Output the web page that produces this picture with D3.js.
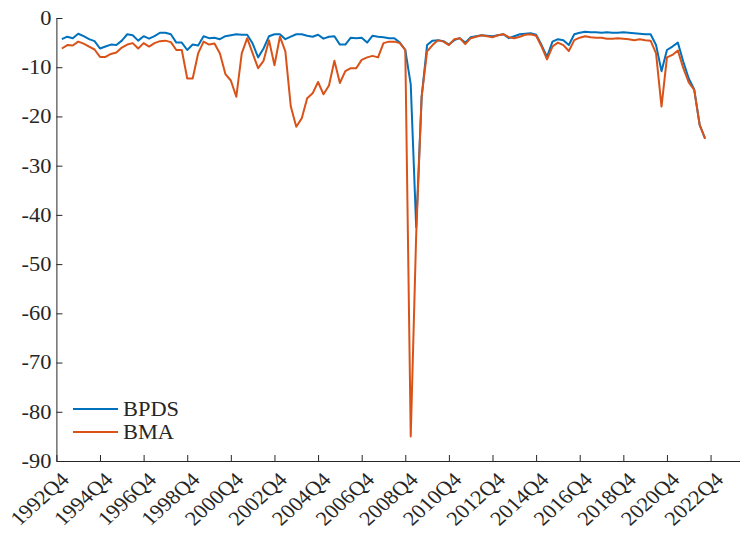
<!DOCTYPE html>
<html><head><meta charset="utf-8">
<script src="https://cdn.jsdelivr.net/npm/d3@7"></script>
<style>body{margin:0;background:#fff}</style>
</head><body>
<svg id="c" width="740" height="534"></svg>
<script>
// first observation is 1993Q1 (quarter index 1 where 1992Q4 = 0)
const firstQuarter = "1993Q1";
const seriesNames = ["BPDS", "BMA"];
const bpds = [-4.3,-3.8,-4.1,-3.2,-3.7,-4.3,-4.7,-6.2,-5.8,-5.4,
  -5.5,-4.6,-3.3,-3.5,-4.6,-3.7,-4.2,-3.7,-3.0,-3.0,
  -3.3,-5.0,-5.0,-6.5,-5.4,-5.6,-3.7,-4.1,-4.0,-4.3,
  -3.7,-3.5,-3.3,-3.4,-3.4,-5.2,-8.0,-6.2,-3.7,-3.3,
  -3.3,-4.3,-3.8,-3.3,-3.3,-3.6,-3.8,-3.4,-4.2,-3.8,
  -3.7,-5.4,-5.4,-4.0,-4.1,-4.0,-5.0,-3.6,-3.8,-3.9,
  -4.1,-4.1,-5.0,-6.5,-13.5,-42.5,-16.0,-5.5,-4.6,-4.5,
  -4.7,-5.4,-4.5,-4.1,-5.0,-3.9,-3.7,-3.5,-3.6,-3.7,
  -3.5,-3.3,-4.1,-3.7,-3.3,-3.2,-3.1,-3.4,-5.5,-7.9,
  -4.8,-4.3,-4.5,-5.5,-3.3,-3.0,-2.8,-2.9,-2.9,-3.0,
  -2.9,-3.0,-3.0,-2.9,-3.0,-3.1,-3.2,-3.3,-3.3,-5.5,
  -10.8,-6.5,-5.8,-5.0,-8.9,-12.3,-14.5,-21.7,-24.5];
const bma = [-6.2,-5.5,-5.6,-4.8,-5.2,-5.8,-6.4,-7.9,-7.9,-7.3,
  -7.0,-6.0,-5.4,-5.1,-6.2,-5.1,-5.8,-5.1,-4.7,-4.6,
  -4.9,-6.5,-6.5,-12.3,-12.3,-7.2,-4.8,-5.4,-5.2,-7.2,
  -11.4,-12.7,-16.0,-7.2,-4.1,-7.2,-10.2,-8.7,-4.5,-9.6,
  -3.8,-6.8,-18.0,-22.1,-20.4,-16.3,-15.3,-13.0,-15.5,-13.7,
  -8.7,-13.2,-10.8,-10.2,-10.2,-8.5,-8.0,-7.7,-8.0,-5.1,
  -4.8,-4.8,-5.1,-6.5,-85.0,-44.0,-16.0,-6.8,-5.5,-4.5,
  -4.8,-5.5,-4.3,-4.1,-5.3,-4.1,-3.8,-3.5,-3.7,-3.9,
  -3.5,-3.3,-3.9,-4.1,-3.8,-3.4,-3.3,-3.6,-5.8,-8.4,
  -5.8,-5.0,-5.5,-6.7,-4.5,-4.0,-3.7,-3.9,-4.0,-4.0,
  -4.2,-4.2,-4.1,-4.2,-4.3,-4.5,-4.3,-4.5,-4.6,-7.2,
  -18.0,-8.0,-7.5,-6.6,-10.2,-13.1,-14.6,-21.7,-24.5];
const tickLabels = ["1992Q4","1994Q4","1996Q4","1998Q4","2000Q4","2002Q4","2004Q4",
  "2006Q4","2008Q4","2010Q4","2012Q4","2014Q4","2016Q4","2018Q4","2020Q4","2022Q4"];
const yTicks = [0,-10,-20,-30,-40,-50,-60,-70,-80,-90];
const colors = ["#0072BD", "#D95319"];

// quarter label -> index (1992Q4 = 0)
function qIndex(s) { return (+s.slice(0,4) - 1992) * 4 + (+s.slice(5) - 4); }
const q0 = qIndex(firstQuarter);

const svg = d3.select("#c");
const font = "'Liberation Serif', 'Times New Roman', serif";
const axisColor = "#262626";
const stretch = 1.12;

const x = d3.scaleLinear().domain([0, 125.4]).range([56.4, 740]);
const y = d3.scaleLinear().domain([-90, 0]).range([461, 18]);

// Y axis
const gy = svg.append("g").attr("transform", `translate(${x(0)},0)`)
  .call(d3.axisLeft(y).tickValues(yTicks).tickSize(-6).tickSizeOuter(0).tickPadding(5)
    .tickFormat(d => d === 0 ? "0" : "-" + Math.abs(d)));
// X axis
const gx = svg.append("g").attr("transform", `translate(0,${y(-90)})`)
  .call(d3.axisBottom(x).tickValues(tickLabels.map(qIndex)).tickSize(-6).tickSizeOuter(0)
    .tickFormat((d, i) => tickLabels[i]));

[gx, gy].forEach(g => {
  g.select(".domain").attr("stroke", axisColor).attr("stroke-width", 1);
  g.selectAll(".tick line").attr("stroke", axisColor);
  g.selectAll(".tick text").attr("fill", axisColor)
    .style("font-family", font).style("font-size", "20px");
});
gx.select(".tick:first-child line").remove();
gy.selectAll(".tick text").attr("x", 0).attr("transform", `translate(-5,0) scale(${stretch},1)`);
gx.selectAll(".tick text")
  .attr("text-anchor", "end").attr("x", 0).attr("y", 0).attr("dy", "0.35em")
  .attr("transform", `translate(8,15) scale(${stretch},1) rotate(-45)`);

// lines
const series = [bpds, bma];
const line = d3.line().x((d, i) => x(q0 + i)).y(d => y(d));
series.forEach((s, k) => {
  svg.append("path").datum(s)
    .attr("fill", "none").attr("stroke", colors[k]).attr("stroke-width", 2)
    .attr("stroke-linejoin", "round").attr("d", line);
});

// legend
const leg = svg.append("g").attr("transform", "translate(73,409)");
seriesNames.forEach((n, k) => {
  const g = leg.append("g").attr("transform", `translate(0,${k * 23})`);
  g.append("line").attr("x1", 0).attr("x2", 45).attr("y1", 0).attr("y2", 0)
    .attr("stroke", colors[k]).attr("stroke-width", 2);
  g.append("text").attr("x", 0).attr("y", 0).attr("dy", "0.35em")
    .attr("transform", `translate(50,0) scale(${stretch},1)`)
    .style("font-family", font).style("font-size", "20px").attr("fill", axisColor).text(n);
});
</script>
</body></html>
